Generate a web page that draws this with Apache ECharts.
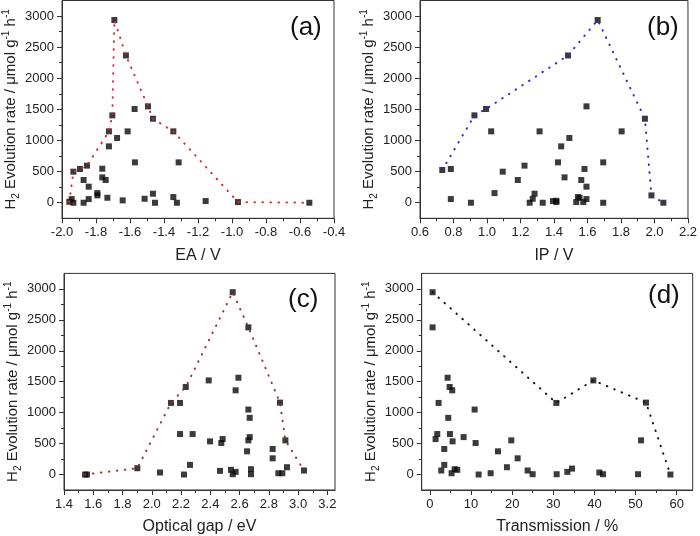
<!DOCTYPE html>
<html><head><meta charset="utf-8">
<script src="https://cdn.jsdelivr.net/npm/echarts@6/dist/echarts.min.js"></script>
<style>html,body{margin:0;padding:0;background:#fff}#c{width:700px;height:536px}</style>
</head><body><div id="c"></div>
<script>
// ---------- data ----------
const yMajorTicks = [0, 500, 1000, 1500, 2000, 2500, 3000];
const yMinorTicks = [250, 750, 1250, 1750, 2250, 2750];

// (a) EA
const eaX = [-1.957,-1.943,-1.933,-1.933,-1.894,-1.873,-1.873,-1.853,-1.843,-1.843,-1.792,-1.792,-1.763,-1.763,-1.743,-1.733,-1.724,-1.724,-1.704,-1.692,-1.676,-1.643,-1.624,-1.614,-1.573,-1.571,-1.514,-1.494,-1.465,-1.465,-1.453,-1.345,-1.345,-1.324,-1.314,-1.155,-0.965,-0.545];
const eaY = [16,59,0,499,542,365,0,596,258,59,155,118,547,408,365,80,906,1147,1404,2936,1040,38,2367,1147,1506,649,64,1549,1350,145,0,1147,91,0,649,27,11,0];
const eaEnvX = [-1.957,-1.933,-1.894,-1.853,-1.724,-1.704,-1.692,-1.624,-1.494,-1.465,-1.345,-0.965,-0.545];
const eaEnvY = [16,499,542,596,1147,1404,2936,2367,1549,1350,1147,11,0];
const eaTicks = [-2.0,-1.8,-1.6,-1.4,-1.2,-1.0,-0.8,-0.6,-0.4];
const eaMinor = [-1.9,-1.7,-1.5,-1.3,-1.1,-0.9,-0.7,-0.5];

// (b) IP
const ipX = [0.733,0.784,0.784,0.904,0.925,0.994,1.025,1.045,1.094,1.184,1.224,1.255,1.273,1.284,1.314,1.333,1.394,1.414,1.414,1.424,1.443,1.463,1.484,1.492,1.533,1.543,1.553,1.563,1.575,1.582,1.594,1.594,1.594,1.661,1.694,1.694,1.804,1.943,1.982,2.053];
const ipY = [526,542,59,0,1404,1506,1147,155,499,365,596,0,64,145,1147,0,27,32,11,649,906,408,2367,1040,11,91,80,365,11,542,1549,258,59,2936,649,0,1147,1350,118,0];
const ipEnvX = [0.733,0.925,0.994,1.484,1.661,1.943,1.982,2.053];
const ipEnvY = [526,1404,1506,2367,2936,1350,118,0];
const ipTicks = [0.6,0.8,1.0,1.2,1.4,1.6,1.8,2.0,2.2];
const ipMinor = [0.7,0.9,1.1,1.3,1.5,1.7,1.9,2.1];

// (c) Optical gap
const gapX = [1.544,1.557,1.901,2.056,2.131,2.193,2.193,2.220,2.232,2.261,2.279,2.389,2.398,2.466,2.475,2.484,2.541,2.553,2.553,2.573,2.573,2.592,2.651,2.660,2.660,2.660,2.669,2.669,2.678,2.678,2.826,2.826,2.865,2.892,2.876,2.913,2.924,3.040];
const gapY = [0,0,102,33,1157,1157,654,0,1414,156,654,1521,536,59,509,573,76,2946,5,43,1361,1564,375,2378,1050,552,916,605,86,5,413,262,21,21,1162,552,118,65];
const gapEnvX = [1.544,1.901,2.131,2.232,2.553,2.660,2.876,2.913,3.040];
const gapEnvY = [0,102,1157,1414,2946,2378,1162,552,65];
const gapTicks = [1.4,1.6,1.8,2.0,2.2,2.4,2.6,2.8,3.0,3.2];
const gapMinor = [1.5,1.7,1.9,2.1,2.3,2.5,2.7,2.9,3.1];

// (d) Transmission
const trX = [0.65,0.65,1.38,1.78,2.11,2.76,3.49,3.49,4.30,4.46,4.79,4.87,5.27,5.43,5.51,6.00,6.65,8.19,10.87,11.11,11.84,14.76,16.55,18.73,19.79,21.33,23.76,24.98,30.74,30.82,33.41,34.55,39.74,41.20,42.09,50.61,51.34,52.55,58.48];
const trY = [2946,2378,573,654,1157,65,413,156,1564,916,1414,654,21,1361,536,86,76,605,1050,509,0,21,375,118,552,262,65,5,1157,5,43,96,1521,33,5,5,552,1162,0];
const trEnvX = [0.65,30.74,39.74,52.55,58.48];
const trEnvY = [2946,1157,1521,1162,0];
const trTicks = [0,10,20,30,40,50,60];
const trMinor = [5,15,25,35,45,55];

// ---------- chart ----------
const zip = (a, b) => a.map((v, i) => [v, b[i]]);
const FONT = 'Liberation Sans, Arial, sans-serif';
const AX = '#333';
const yName = '{n|H}{sub|2}{n| Evolution rate / μmol g}{sup|-1}{n| h}{sup|-1}';
const yRich = {
  n: {fontSize: 15, fontFamily: FONT, color: '#222', lineHeight: 20, verticalAlign: 'middle'},
  sub: {fontSize: 10, fontFamily: FONT, color: '#222', lineHeight: 20, verticalAlign: 'bottom'},
  sup: {fontSize: 10, fontFamily: FONT, color: '#222', lineHeight: 20, verticalAlign: 'top'}
};

const panels = [
  {grid: {left: 62, top: 0.5, width: 272, height: 217.8}, xmin: -2.0, xmax: -0.4, ticks: eaTicks, minor: eaMinor, dec: 1,
   xname: 'EA / V', pts: zip(eaX, eaY), env: zip(eaEnvX, eaEnvY), color: '#e02424', label: '(a)', lx: 306, ly: 30},
  {grid: {left: 420, top: 0.5, width: 272, height: 217.8}, xmin: 0.6, xmax: 2.2, ticks: ipTicks, minor: ipMinor, dec: 1,
   xname: 'IP / V', pts: zip(ipX, ipY), env: zip(ipEnvX, ipEnvY), color: '#2a2ad0', label: '(b)', lx: 663, ly: 30},
  {grid: {left: 64, top: 273.4, width: 271, height: 217.8}, xmin: 1.4, xmax: 3.252, ticks: gapTicks, minor: gapMinor, dec: 1,
   xname: 'Optical gap / eV', pts: zip(gapX, gapY), env: zip(gapEnvX, gapEnvY), color: '#a0302c', label: '(c)', lx: 304, ly: 302},
  {grid: {left: 421.7, top: 273.4, width: 271, height: 217.8}, xmin: -2, xmax: 63.9, ticks: trTicks, minor: trMinor, dec: 0,
   xname: 'Transmission / %', pts: zip(trX, trY), env: zip(trEnvX, trEnvY), color: '#111', label: '(d)', lx: 664, ly: 298}
];

const option = {animation: false, backgroundColor: '#fff', grid: [], xAxis: [], yAxis: [], series: [], graphic: []};

panels.forEach((p, i) => {
  option.grid.push(Object.assign({show: true, borderColor: AX, borderWidth: 1, backgroundColor: 'transparent'}, p.grid));
  option.xAxis.push({
    gridIndex: i, type: 'value', position: 'bottom', min: p.xmin, max: p.xmax,
    axisLine: {show: true, onZero: false, lineStyle: {color: AX, width: 1}},
    axisTick: {show: true, inside: false, length: 5, customValues: p.ticks, lineStyle: {color: AX}},
    axisLabel: {show: true, customValues: p.ticks, color: '#222', fontSize: 13, fontFamily: FONT, margin: 8,
      formatter: v => Number(v).toFixed(p.dec)},
    splitLine: {show: false},
    name: p.xname, nameLocation: 'middle', nameGap: 29,
    nameTextStyle: {fontSize: 16, fontFamily: FONT, color: '#222'}
  });
  option.xAxis.push({
    gridIndex: i, type: 'value', position: 'bottom', min: p.xmin, max: p.xmax,
    axisLine: {show: false, onZero: false},
    axisTick: {show: true, inside: false, length: 3, customValues: p.minor, lineStyle: {color: AX}},
    axisLabel: {show: false}, splitLine: {show: false}
  });
  option.yAxis.push({
    gridIndex: i, type: 'value', position: 'left', min: -250, max: 3250,
    axisLine: {show: true, onZero: false, lineStyle: {color: AX, width: 1}},
    axisTick: {show: true, inside: false, length: 5, customValues: yMajorTicks, lineStyle: {color: AX}},
    axisLabel: {show: true, customValues: yMajorTicks, color: '#222', fontSize: 13, fontFamily: FONT, margin: 8,
      formatter: v => String(Math.round(v))},
    splitLine: {show: false},
    name: yName, nameLocation: 'middle', nameGap: 34, nameRotate: 90,
    nameTextStyle: {rich: yRich}
  });
  option.yAxis.push({
    gridIndex: i, type: 'value', position: 'left', min: -250, max: 3250,
    axisLine: {show: false, onZero: false},
    axisTick: {show: true, inside: false, length: 3, customValues: yMinorTicks, lineStyle: {color: AX}},
    axisLabel: {show: false}, splitLine: {show: false}
  });
  option.series.push({
    type: 'scatter', xAxisIndex: 2 * i, yAxisIndex: 2 * i, data: p.pts,
    symbol: 'rect', symbolSize: 6, itemStyle: {color: '#0a0a0a'}, z: 2
  });
  option.series.push({
    type: 'line', xAxisIndex: 2 * i, yAxisIndex: 2 * i, data: p.env, symbol: 'none',
    lineStyle: {color: p.color, width: 2, type: [0.5, 7.5], cap: 'round'}, z: 3
  });
  option.graphic.push({
    type: 'text', left: p.lx - 16, top: p.ly - 15,
    style: {text: p.label, fontSize: 26, fontFamily: FONT, fill: '#111'}
  });
});

const chart = echarts.init(document.getElementById('c'), null, {renderer: 'canvas'});
chart.setOption(option);
</script>
</body></html>
